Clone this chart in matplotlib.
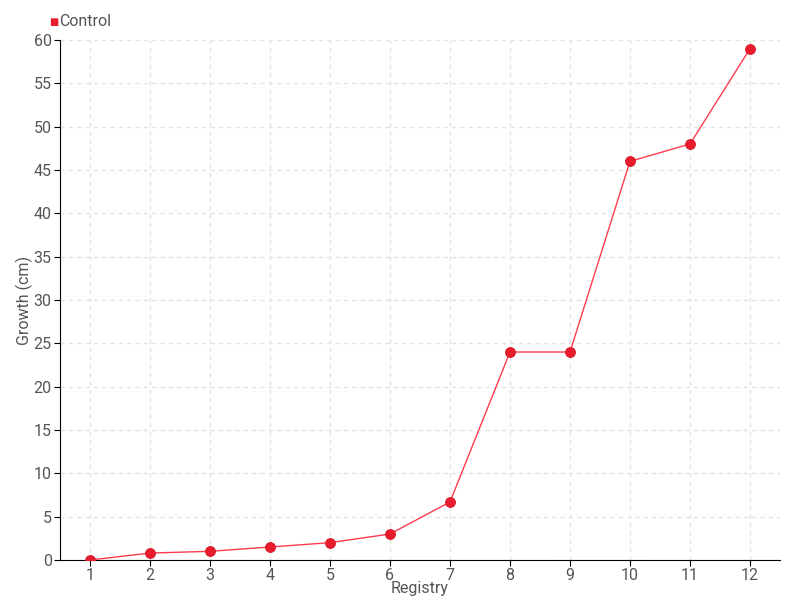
import matplotlib
matplotlib.use('Agg')
import matplotlib.pyplot as plt

plt.rcParams['font.family'] = ['Roboto', 'DejaVu Sans']

registry = [1, 2, 3, 4, 5, 6, 7, 8, 9, 10, 11, 12]
growth = [0, 0.8, 1.0, 1.5, 2.0, 3.0, 6.7, 24, 24, 46, 48, 59]
yticks = list(range(0, 61, 5))

txt = '#555555'

fig = plt.figure(figsize=(8, 6), dpi=100)
ax = fig.add_axes([60/800, 40/600, 720/800, 520/600])

ax.plot(registry, growth, color='#ff3b4e', lw=1, marker='o', ms=7,
        mfc='#e81c2c', mec='#d81c2a', mew=0.8, zorder=3)

ax.set_xlim(0.5, 12.5)
ax.set_ylim(0, 60)
ax.set_xticks(registry)
ax.set_yticks(yticks)
ax.grid(True, color='#e3e3e3', ls=(0, (3, 3)), lw=1)
ax.set_axisbelow(True)
for s in ['top', 'right']:
    ax.spines[s].set_visible(False)
ax.spines['left'].set_color('black')
ax.spines['bottom'].set_color('black')
ax.tick_params(colors=txt, labelsize=11.5, length=4, pad=2)
ax.tick_params(axis='both', color='black')
ax.set_xlabel('Registry', color=txt, fontsize=11.5)
ax.set_ylabel('Growth (cm)', color=txt, fontsize=11.5)
ax.xaxis.set_label_coords(360/720, -21/520)
ax.yaxis.set_label_coords(-27/720, 0.5)

fig.text(49/800, 1 - 22/600, '\u25a0', color='#e81c2c', fontsize=7, va='center', ha='left',
         family=['DejaVu Sans'], weight='normal')
fig.text(59/800, 1 - 22/600, 'Control', color=txt, fontsize=11.5, va='center', ha='left')

fig.savefig('out.png', dpi=100)
